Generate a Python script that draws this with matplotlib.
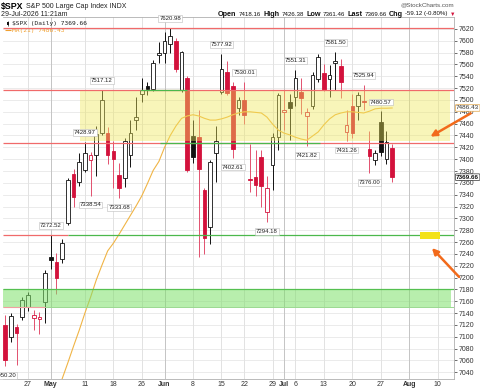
import matplotlib
matplotlib.use("Agg")
import matplotlib.pyplot as plt
from matplotlib.patches import Rectangle, FancyArrowPatch

plt.rcParams['font.family'] = ['Liberation Sans', 'DejaVu Sans']

# daily candles, 21-Apr-2026 .. 29-Jul-2026
dates = ["Apr21", "Apr22", "Apr23", "Apr24", "Apr27", "Apr28", "Apr29", "Apr30", "May1",
         "May4", "May5", "May6", "May7", "May8", "May11", "May12", "May13", "May14", "May15",
         "May18", "May19", "May20", "May21", "May22", "May26", "May27", "May28", "May29",
         "Jun1", "Jun2", "Jun3", "Jun4", "Jun5", "Jun8", "Jun9", "Jun10", "Jun11", "Jun12",
         "Jun15", "Jun16", "Jun17", "Jun18", "Jun22", "Jun23", "Jun24", "Jun25", "Jun26",
         "Jun29", "Jun30", "Jul1", "Jul2", "Jul6", "Jul7", "Jul8", "Jul9", "Jul10",
         "Jul13", "Jul14", "Jul15", "Jul16", "Jul17", "Jul20", "Jul21", "Jul22", "Jul23", "Jul24",
         "Jul27", "Jul28", "Jul29"]
opens = [7120, 7099, 7116, 7134, 7150, 7131, 7130, 7159, 7234,
         7226, 7231, 7292, 7375, 7361, 7382, 7398, 7407, 7444, 7444,
         7413, 7373, 7368, 7407, 7466, 7510, 7524, 7518, 7576,
         7580, 7595, 7600, 7517, 7537, 7439, 7438, 7348, 7285, 7410,
         7514, 7548, 7523, 7486, 7500, 7366, 7370, 7404, 7310,
         7390, 7438, 7479, 7497, 7505, 7514, 7473, 7489, 7535,
         7546, 7535, 7562, 7557, 7446, 7489, 7489, 7498, 7418, 7398,
         7463, 7400, 7418.16]
highs = [7136, 7140, 7122, 7168, 7176, 7145, 7142, 7213, 7272.52,
         7241, 7265, 7368, 7383, 7410, 7428.97, 7412, 7456, 7517.12, 7454,
         7430, 7393, 7435, 7466, 7505, 7537, 7530, 7567, 7598,
         7615, 7620.98, 7605, 7583, 7540, 7466, 7483, 7352, 7398, 7456,
         7577.92, 7565, 7530, 7505, 7530.01, 7425, 7415, 7415, 7372,
         7445, 7512, 7517, 7510, 7551.31, 7537, 7486, 7548, 7578,
         7560, 7559, 7581.50, 7570, 7483, 7510, 7514, 7525.94, 7447, 7415,
         7480.57, 7447, 7426.38]
lows = [7050.20, 7092, 7052, 7128, 7144, 7112, 7105, 7123, 7215,
        7172, 7225, 7288, 7320, 7355, 7378, 7338.54, 7372, 7440, 7392,
        7351, 7333.68, 7353, 7387, 7449, 7497, 7508, 7515, 7562,
        7563, 7579, 7548, 7514, 7378, 7393, 7235, 7240, 7257, 7362,
        7510, 7508, 7402.61, 7475, 7460, 7345, 7337, 7320, 7294.18,
        7348, 7415, 7449, 7432, 7490, 7477, 7421.82, 7485, 7530,
        7515, 7505, 7517, 7503, 7431.26, 7436, 7466, 7483, 7376.00, 7390,
        7405, 7392, 7361.46]
closes = [7061, 7135, 7106, 7162, 7170, 7137, 7133, 7207, 7230,
          7199, 7258, 7364, 7336, 7396, 7411, 7407, 7442, 7500, 7407,
          7400, 7351, 7431, 7444, 7471, 7517, 7519, 7563, 7580,
          7600, 7608, 7553, 7581, 7382, 7404, 7384, 7267, 7395, 7430,
          7553, 7511, 7418, 7500, 7474, 7364, 7356, 7354, 7352,
          7438, 7508, 7483, 7486, 7537, 7503, 7480, 7542, 7572,
          7517, 7542, 7566, 7531, 7458, 7444, 7508, 7497, 7405, 7410,
          7412, 7428.78, 7369.66]
ma21 = [None, None, None, None, None, None, None, None, None,
        7002, 7029, 7056, 7084, 7111, 7140, 7167, 7196, 7221, 7245,
        7258, 7273, 7289, 7305, 7321, 7338, 7359, 7381, 7396,
        7420, 7440, 7456, 7469, 7473, 7475, 7473, 7469, 7466, 7466,
        7468, 7471, 7475, 7478, 7480, 7480, 7479, 7478, 7471,
        7459, 7449, 7444, 7441, 7437, 7434, 7432, 7439, 7446,
        7458, 7468, 7475, 7478, 7480, 7480, 7479, 7478, 7481, 7485,
        7486, 7486, 7486.43]

# x axis (trading-day slots incl. future)
tick_pos = [4, 8, 14, 19, 24, 28, 33, 38, 42, 47, 49, 51, 56, 61, 66, 71, 76]
tick_lab = ["27", "May", "11", "18", "26", "Jun", "8", "15", "22", "29", "Jul", "6",
            "13", "20", "27", "Aug", "10"]
month_lab = ["May", "Jun", "Jul", "Aug"]

# price labels on swing points: (index, 'h'/'l')
swings = [(0, 'l'), (8, 'h'), (14, 'h'), (15, 'l'), (17, 'h'), (20, 'l'), (29, 'h'),
          (38, 'h'), (40, 'l'), (42, 'h'), (46, 'l'), (51, 'h'), (53, 'l'), (58, 'h'),
          (60, 'l'), (63, 'h'), (64, 'l'), (66, 'h')]

# horizontal levels / zones
red_levels = [7620.98, 7517.12, 7427.0]
lvl_7272 = 7272.52
yellow_zone = (7431, 7515)
green_zone = (7150, 7180)

W, H = 480, 389
fig = plt.figure(figsize=(4.8, 3.89), dpi=100)
ax = fig.add_axes([3 / W, 1 - 379 / H, 451 / W, 362 / H])


def px2i(px):
    return (px - 5.24) / 5.69


ax.set_xlim(px2i(3), px2i(454))
ax.set_ylim(7028.7, 7640.1)

RED = '#d3123c'
for y in range(7040, 7640, 20):
    ax.axhline(y, color='#e8e8e8', lw=0.6, zorder=0)
for p, lab in zip(tick_pos, tick_lab):
    ax.axvline(p, color='#c4c4c4' if lab in month_lab else '#e2e2e2', lw=0.7, zorder=0)

for i in range(len(opens)):
    o, h, l, c = opens[i], highs[i], lows[i], closes[i]
    up = i > 0 and c >= closes[i - 1]
    col = '#111111' if up else RED
    filled = c < o
    lo, hi = min(o, c), max(o, c)
    if hi - lo < 1.2:
        hi = lo + 1.2
    ax.vlines(i, l, h, color=col if up else '#e2506e', lw=0.7, zorder=2)
    ax.add_patch(Rectangle((i - 0.32, lo), 0.64, hi - lo, facecolor=col if filled else 'white',
                           edgecolor=col, lw=0.6, zorder=3))

mx = [i for i, v in enumerate(ma21) if v is not None]
my = [v for v in ma21 if v is not None]
ax.plot(mx, my, color='#f0b445', lw=0.8, zorder=4)

# zones on top (translucent)
ax.add_patch(Rectangle((px2i(80), yellow_zone[0]), px2i(450) - px2i(80),
                       yellow_zone[1] - yellow_zone[0], facecolor='#efe85a', alpha=0.42,
                       edgecolor='none', zorder=5))
ax.add_patch(Rectangle((px2i(3), green_zone[0]), px2i(451) - px2i(3),
                       green_zone[1] - green_zone[0], facecolor='#7ee06a', alpha=0.55,
                       edgecolor='none', zorder=5))
ax.hlines(green_zone[1], px2i(3), px2i(454), color='#55c050', lw=0.9, zorder=6)
ax.hlines(green_zone[0], px2i(3), px2i(454), color='#9ad890', lw=0.7, zorder=6)
ax.hlines(green_zone[0], px2i(3), px2i(45), color='#f0a0a0', lw=0.8, zorder=6)

LRED = '#f06a6a'
GRN = '#4cb84c'
for lv in red_levels:
    ax.hlines(lv, px2i(3), px2i(454), color=LRED, lw=0.9, zorder=6)
ax.hlines(red_levels[1], px2i(140), px2i(187), color=GRN, lw=0.9, zorder=6)
ax.hlines(red_levels[2], px2i(160), px2i(320), color=GRN, lw=0.9, zorder=6)
ax.hlines(lvl_7272, px2i(3), px2i(68), color=LRED, lw=0.9, zorder=6)
ax.hlines(lvl_7272, px2i(68), px2i(454), color=GRN, lw=0.9, zorder=6)

# swing labels
for i, side in swings:
    v = highs[i] if side == 'h' else lows[i]
    ax.annotate(f"{v:.2f}", (i, v), xytext=(0, 5 if side == 'h' else -5),
                textcoords='offset points', ha='center', va='bottom' if side == 'h' else 'top',
                fontsize=4.3, color='#222222', zorder=9,
                bbox=dict(boxstyle='square,pad=0.15', fc='white', ec='#bbbbbb', lw=0.4))

ax.yaxis.tick_right()
ax.set_yticks(range(7040, 7640, 20))
ax.tick_params(axis='y', labelsize=5, length=2, width=0.5, colors='#333333', pad=1.5)
ax.set_xticks(tick_pos)
ax.set_xticklabels(tick_lab)
ax.tick_params(axis='x', labelsize=5, length=0, colors='#333333', pad=1.5)
for t in ax.get_xticklabels():
    if t.get_text() in month_lab:
        t.set_fontweight('bold')
for s in ax.spines.values():
    s.set_color('#b0b0b0')
    s.set_linewidth(0.6)
ax.spines['left'].set_visible(False)

# right side value boxes
ax.annotate(f"{ma21[-1]:.2f}", (1.0, ma21[-1]), xycoords=('axes fraction', 'data'),
            xytext=(1.5, 0), textcoords='offset points', va='center', ha='left', fontsize=4.6,
            color='#333333', zorder=10, annotation_clip=False,
            bbox=dict(boxstyle='round,pad=0.12', fc='white', ec='#e0a040', lw=0.5))
ax.annotate(f"{closes[-1]:.2f}", (1.0, closes[-1]), xycoords=('axes fraction', 'data'),
            xytext=(1.5, 0), textcoords='offset points', va='center', ha='left', fontsize=4.6,
            color='#111111', fontweight='bold', zorder=10, annotation_clip=False,
            bbox=dict(boxstyle='round,pad=0.12', fc='white', ec='#333333', lw=0.5))

# legend inside
ax.text(px2i(12), 7640.1 - 6.5 * 1.689, f"$SPX (Daily) {closes[-1]:.2f}", fontsize=4.5,
        family='DejaVu Sans Mono', va='center', ha='left', color='#222222', zorder=8)
ax.text(px2i(12), 7640.1 - 13 * 1.689, f"MA(21) {ma21[-1]:.2f}", fontsize=4.5,
        family='DejaVu Sans Mono', va='center', ha='left', color='#f0a030', zorder=5)
ax.vlines(px2i(8), 7640.1 - 9 * 1.689, 7640.1 - 3.5 * 1.689, color='#111111', lw=0.5, zorder=8)
ax.add_patch(Rectangle((px2i(6.8), 7640.1 - 8 * 1.689), 2.4 / 5.69, 3.5 * 1.689,
                       facecolor='#111111', edgecolor='none', zorder=8))
ax.hlines(7640.1 - 13 * 1.689, px2i(5), px2i(11), color='#f0a030', lw=0.8, zorder=5)


def fxy(x, y):
    return x / W, 1 - y / H


# header
fig.text(*fxy(1, 6.5), "$SPX", fontsize=6.3, fontweight='bold', va='center', ha='left')
fig.text(*fxy(26, 6.5), "S&P 500 Large Cap Index INDX", fontsize=5.0, va='center', ha='left',
         color='#222222')
fig.text(*fxy(1, 14), "29-Jul-2026 11:21am", fontsize=5, va='center', ha='left', color='#222222')
fig.text(*fxy(454, 5), "@StockCharts.com", fontsize=4.5, va='center', ha='right', color='#555555')

fig.canvas.draw()
rend = fig.canvas.get_renderer()
parts = [("Open", True), ("7418.16", False), ("High", True), ("7426.38", False),
         ("Low", True), ("7361.46", False), ("Last", True), ("7369.66", False),
         ("Chg", True), ("-59.12 (-0.80%)", False)]
x = 218
for s, bold in parts:
    t = fig.text(*fxy(x, 14), s, fontsize=5.2 if bold else 4.4,
                 fontweight='bold' if bold else 'normal', va='center', ha='left', color='#111111')
    x += t.get_window_extent(renderer=rend).width + 2.2
fig.text(*fxy(x, 14), "\u25bc", fontsize=4, color=RED, va='center', ha='left')

# orange arrows and yellow marker
for (x0, y0), (x1, y1) in [((473, 112), (428, 138)), ((461, 279), (430, 246))]:
    fig.patches.append(FancyArrowPatch(fxy(x0, y0), fxy(x1, y1), transform=fig.transFigure,
                                       arrowstyle='-|>', mutation_scale=9, lw=1.8,
                                       color='#f26a1b', zorder=20))
fig.patches.append(Rectangle(fxy(420, 239), 20 / W, 7 / H, transform=fig.transFigure,
                             facecolor='#f3e21a', edgecolor='none', zorder=20))

fig.savefig("out.png", dpi=100)
